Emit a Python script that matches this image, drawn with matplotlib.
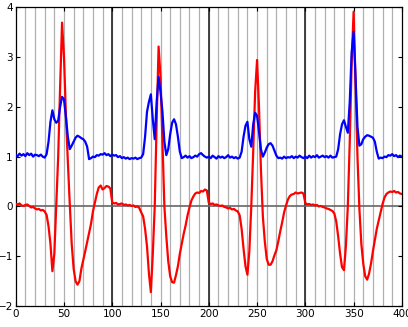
import numpy as np
import matplotlib
matplotlib.use("Agg")
import matplotlib.pyplot as plt

# sample positions (every 2 units)
x = np.arange(0, 401, 2)

# red trace
red = [
    # 0 .. 98
    0.05, 0.04, 0.06, 0.02, 0.01, 0.03, 0.04, 0.01, -0.02, -0.01,
    -0.04, -0.06, -0.05, -0.08, -0.07, -0.10, -0.17, -0.40, -0.75, -1.30,
    -0.95, 0.00, 1.00, 2.40, 3.69, 3.00, 1.85, 0.90, 0.05, -0.75,
    -1.25, -1.50, -1.57, -1.50, -1.25, -1.08, -0.90, -0.72, -0.55, -0.35,
    -0.10, 0.08, 0.25, 0.38, 0.42, 0.34, 0.37, 0.41, 0.40, 0.36,
    # 100 .. 198
    0.08, 0.06, 0.07, 0.04, 0.05, 0.06, 0.03, 0.04, 0.02, 0.03,
    0.01, 0.02, -0.01, 0.00, -0.03, -0.12, -0.20, -0.45, -0.80, -1.35,
    -1.72, -0.95, 0.00, 1.70, 3.21, 2.60, 1.30, 0.00, -0.60, -1.10,
    -1.40, -1.52, -1.53, -1.38, -1.20, -0.95, -0.75, -0.55, -0.38, -0.18,
    -0.02, 0.12, 0.20, 0.26, 0.28, 0.27, 0.31, 0.30, 0.34, 0.32,
    # 200 .. 298
    0.07, 0.05, 0.06, 0.03, 0.04, 0.02, 0.01, 0.02, -0.01, -0.02,
    -0.04, -0.03, -0.06, -0.05, -0.08, -0.10, -0.18, -0.45, -0.85, -1.20,
    -1.37, -0.90, 0.00, 1.10, 2.30, 2.94, 2.00, 0.75, -0.20, -0.70,
    -1.05, -1.17, -1.17, -1.10, -0.98, -0.88, -0.70, -0.50, -0.32, -0.12,
    0.02, 0.14, 0.21, 0.24, 0.25, 0.28, 0.26, 0.27, 0.28, 0.26,
    # 300 .. 400
    0.07, 0.04, 0.05, 0.03, 0.04, 0.02, 0.03, 0.00, 0.01, -0.01,
    -0.02, -0.04, -0.05, -0.07, -0.09, -0.14, -0.30, -0.60, -0.95, -1.22,
    -1.28, -0.80, 0.00, 1.30, 2.90, 3.91, 2.50, 1.00, -0.05, -0.75,
    -1.15, -1.40, -1.47, -1.35, -1.15, -0.90, -0.68, -0.45, -0.28, -0.10,
    0.05, 0.18, 0.25, 0.28, 0.30, 0.29, 0.31, 0.28, 0.29, 0.26,
    0.25,
]

# blue trace
blue = [
    # 0 .. 98
    1.03, 1.01, 1.06, 1.02, 1.05, 1.01, 1.07, 1.03, 1.06, 1.00,
    1.04, 1.03, 1.01, 1.04, 1.00, 0.98, 1.05, 1.30, 1.70, 1.93,
    1.75, 1.68, 1.72, 2.00, 2.20, 2.15, 1.80, 1.40, 1.15, 1.22,
    1.30, 1.38, 1.42, 1.40, 1.37, 1.35, 1.30, 1.20, 0.95, 0.97,
    1.00, 0.99, 1.03, 1.02, 1.05, 1.04, 1.07, 1.03, 1.05, 1.01,
    # 100 .. 198
    1.04, 1.02, 1.03, 0.99, 1.01, 0.97, 0.99, 0.96, 0.98, 0.95,
    0.97, 0.96, 0.98, 0.95, 0.97, 0.98, 1.05, 1.40, 1.90, 2.10,
    2.25, 1.75, 1.35, 2.10, 2.60, 2.30, 1.90, 1.30, 1.03, 1.15,
    1.45, 1.68, 1.75, 1.65, 1.40, 1.10, 0.97, 0.99, 1.02, 0.98,
    1.01, 0.97, 0.99, 1.02, 1.00, 1.05, 1.07, 1.03, 1.00, 0.98,
    # 200 .. 298
    1.00, 0.97, 1.02, 0.99, 0.96, 1.01, 0.98, 1.00, 0.97, 0.99,
    1.03, 0.98, 1.00, 0.97, 0.99, 0.96, 0.98, 1.10, 1.40, 1.62,
    1.70, 1.35, 1.20, 1.65, 1.88, 1.82, 1.50, 1.15, 1.00, 1.08,
    1.18, 1.25, 1.27, 1.22, 1.12, 1.02, 0.97, 0.98, 0.96, 1.00,
    0.97, 0.99, 0.98, 1.01, 0.97, 1.00, 0.98, 1.02, 0.99, 0.97,
    # 300 .. 400
    1.00, 0.97, 1.02, 0.98, 1.01, 0.99, 1.03, 0.98, 1.00, 1.02,
    0.99, 1.01, 0.98, 1.02, 0.98, 0.99, 1.00, 1.15, 1.45, 1.65,
    1.73, 1.60, 1.48, 2.10, 3.10, 3.51, 2.60, 1.60, 1.22, 1.25,
    1.35, 1.40, 1.43, 1.42, 1.40, 1.38, 1.30, 1.10, 0.96, 0.98,
    0.97, 1.00, 0.99, 1.03, 1.02, 1.05, 1.01, 1.03, 0.99, 1.02,
    1.00,
]

fig = plt.figure(figsize=(4.08, 3.27), dpi=100)
ax = fig.add_axes([0.0385, 0.064, 0.9465, 0.914])

# thin grey verticals every 10, darker ones every 100
for gx in range(10, 400, 10):
    ax.axvline(gx, color="#b0b0b0", lw=0.9, zorder=1)
for gx in (100, 200, 300):
    ax.axvline(gx, color="#333333", lw=1.3, zorder=1.5)
ax.axhline(0, color="#666666", lw=1.2, zorder=1.5)

ax.plot(x, red, color="red", lw=1.6, zorder=3)
ax.plot(x, blue, color="blue", lw=1.6, zorder=3)

ax.set_xlim(0, 400)
ax.set_ylim(-2, 4)
ax.set_xticks(range(0, 401, 50))
ax.set_yticks(range(-2, 5))
ax.tick_params(direction="in", top=True, right=True, labelsize=7.5,
               length=3, pad=2)
for s in ax.spines.values():
    s.set_linewidth(0.9)

plt.savefig("out.png", dpi=100)
